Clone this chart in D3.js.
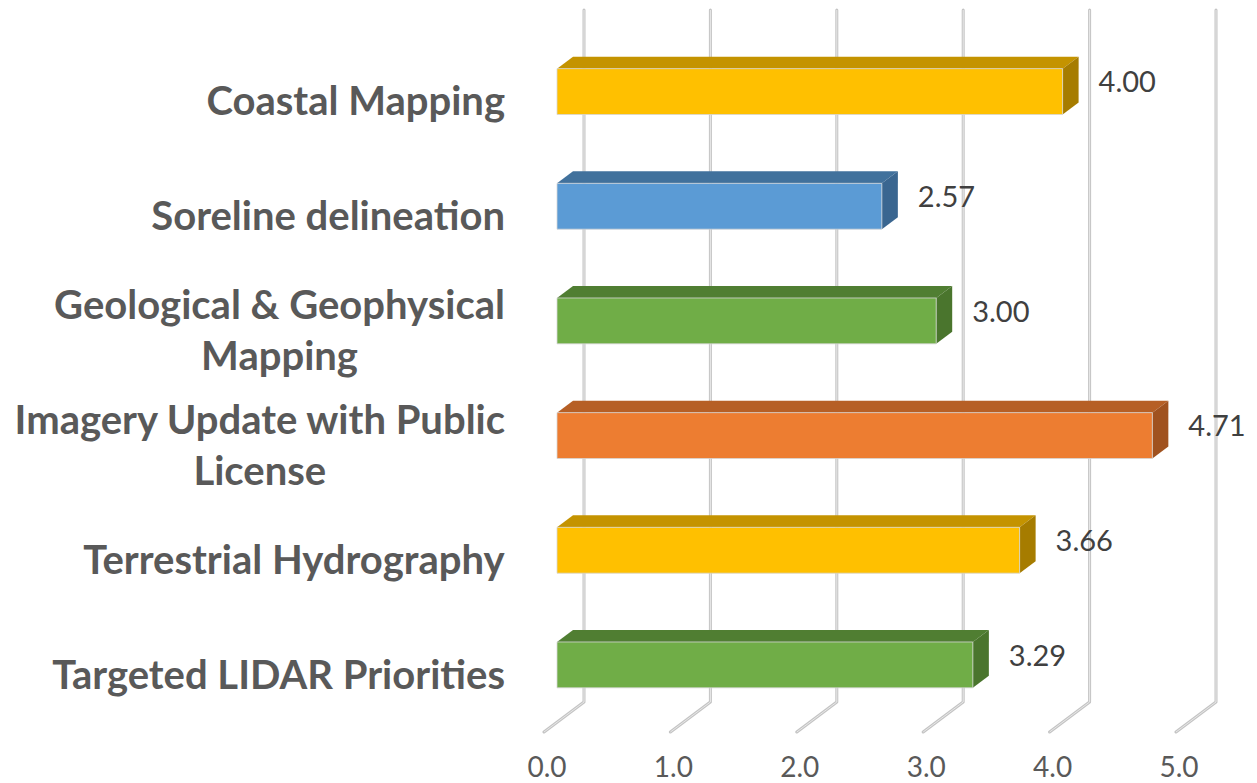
<!DOCTYPE html>
<html>
<head>
<meta charset="utf-8">
<script src="https://cdn.jsdelivr.net/npm/d3@7"></script>
<style>
  body { margin: 0; background: #fff; }
  svg { display: block; }
</style>
</head>
<body>
<svg id="chart"></svg>
<script>
// chart data
var categories = ["Coastal Mapping", "Soreline delineation", "Geological & Geophysical Mapping",
    "Imagery Update with Public License", "Terrestrial Hydrography", "Targeted LIDAR Priorities"];
var labelLines = [["Coastal Mapping"], ["Soreline delineation"], ["Geological & Geophysical", "Mapping"],
    ["Imagery Update with Public", "License"], ["Terrestrial Hydrography"], ["Targeted LIDAR Priorities"]];
var values = [4.00, 2.57, 3.00, 4.71, 3.66, 3.29];
var barColors = ["yellow", "blue", "green", "orange", "yellow", "green"];
var tickValues = [0, 1, 2, 3, 4, 5];

var width = 1257, height = 783;

// face shades: front, top, side
var shades = {
    yellow: ["#FFC000", "#C49300", "#A67C00"],
    blue: ["#5B9BD5", "#41719C", "#3A6690"],
    green: ["#70AD47", "#507E32", "#4A752D"],
    orange: ["#ED7D31", "#B65F25", "#A0521F"]
};

var svg = d3.select("#chart")
    .attr("width", width)
    .attr("height", height);

// value scale on the back wall
var x = d3.scaleLinear().domain([0, 5]).range([584, 1216]);

// category bands on the back wall
var y = d3.scaleBand()
    .domain(categories)
    .range([14, 702])
    .paddingInner(0.6)
    .paddingOuter(0.3);

// oblique depth: d = 0 at the back wall, 1 at the front of the floor
var depthX = -40, depthY = 30;
function proj(v, yy, d) {
    return [x(v) + depthX * d, yy + depthY * d];
}

var dFront = 0.675, dBack = 0.275;

// gridlines: back wall up, then across the floor
var gridPath = function (v) {
    var top = proj(v, 10, 0), bot = proj(v, 702, 0), fr = proj(v, 702, 1);
    return "M" + top + "L" + bot + "L" + fr;
};

var grid = svg.append("g");
grid.selectAll("path.outer")
    .data(tickValues)
    .enter().append("path")
    .attr("d", gridPath)
    .attr("fill", "none")
    .attr("stroke", "#c4c4c4")
    .attr("stroke-width", 3)
    .attr("stroke-linecap", "round")
    .attr("stroke-linejoin", "round");
grid.selectAll("path.inner")
    .data(tickValues)
    .enter().append("path")
    .attr("d", gridPath)
    .attr("fill", "none")
    .attr("stroke", "#e8e8e8")
    .attr("stroke-width", 1);

// bars
var bars = svg.append("g")
    .selectAll("g")
    .data(categories)
    .enter().append("g");

function poly(pts) {
    return pts.map(function (p) { return p.join(","); }).join(" ");
}

// top face
bars.append("polygon")
    .attr("points", function (c, i) {
        var y0 = y(c);
        return poly([proj(0, y0, dFront), proj(values[i], y0, dFront), proj(values[i], y0, dBack), proj(0, y0, dBack)]);
    })
    .attr("fill", function (c, i) { return shades[barColors[i]][1]; });

// side face
bars.append("polygon")
    .attr("points", function (c, i) {
        var y0 = y(c), y1 = y(c) + y.bandwidth();
        return poly([proj(values[i], y0, dFront), proj(values[i], y0, dBack), proj(values[i], y1, dBack), proj(values[i], y1, dFront)]);
    })
    .attr("fill", function (c, i) { return shades[barColors[i]][2]; });

// front face
bars.append("polygon")
    .attr("points", function (c, i) {
        var y0 = y(c), y1 = y(c) + y.bandwidth();
        return poly([proj(0, y0, dFront), proj(values[i], y0, dFront), proj(values[i], y1, dFront), proj(0, y1, dFront)]);
    })
    .attr("fill", function (c, i) { return shades[barColors[i]][0]; })
    .attr("stroke", "#d6d6d6")
    .attr("stroke-width", 0.8);

// value labels
bars.append("text")
    .attr("x", function (c, i) { return proj(values[i], 0, dBack)[0] + 20; })
    .attr("y", function (c) { return y(c) + y.bandwidth() / 2 + 11; })
    .attr("dy", "0.35em")
    .attr("font-family", "Lato, 'Open Sans', sans-serif")
    .attr("font-size", "29px")
    .attr("fill", "#404040")
    .text(function (c, i) { return d3.format(".2f")(values[i]); });

// category labels, centred lines, right edge at 505
var lineH = 51;
var cat = svg.append("g")
    .selectAll("text")
    .data(categories)
    .enter().append("text")
    .attr("font-family", "Lato, 'Open Sans', sans-serif")
    .attr("font-weight", "bold")
    .attr("font-size", "40px")
    .attr("fill", "#595959")
    .attr("text-anchor", "middle");

cat.each(function (c, i) {
    var t = d3.select(this);
    var lines = labelLines[i];
    var cy = y(c) + y.bandwidth() / 2 + depthY;
    lines.forEach(function (ln, k) {
        t.append("tspan")
            .attr("x", 0)
            .attr("y", cy + (k - (lines.length - 1) / 2) * lineH)
            .attr("dy", "0.35em")
            .text(ln);
    });
    var w = this.getBBox().width;
    t.attr("transform", "translate(" + (505 - w / 2) + ",0)");
});

// value axis tick labels
svg.append("g")
    .selectAll("text")
    .data(tickValues)
    .enter().append("text")
    .attr("x", function (v) { return proj(v, 0, 1)[0] + 3; })
    .attr("y", 767)
    .attr("dy", "0.35em")
    .attr("text-anchor", "middle")
    .attr("font-family", "Lato, 'Open Sans', sans-serif")
    .attr("font-size", "28px")
    .attr("fill", "#595959")
    .text(d3.format(".1f"));
</script>
</body>
</html>
